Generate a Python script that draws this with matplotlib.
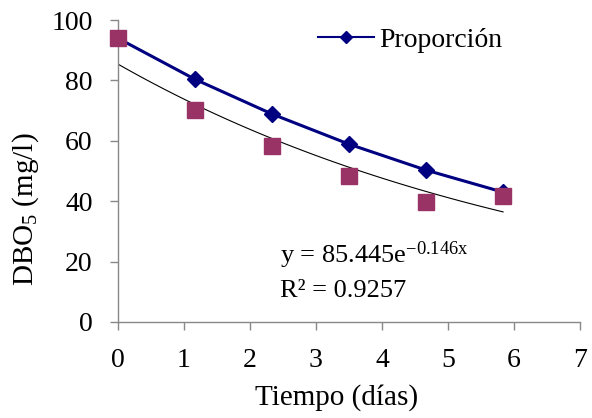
import matplotlib

matplotlib.use("Agg")
import matplotlib.pyplot as plt
import numpy as np

# Sampling times (days) and BOD5 readings (mg/l)
tiempo = [0, 1.167, 2.333, 3.5, 4.667, 5.833]
proporcion = [94.0, 80.4, 68.9, 58.9, 50.3, 43.0]
medido = [94.0, 70.2, 58.3, 48.5, 39.7, 41.7]

# Exponential trend fitted to the measured values
coef_a = 85.445
coef_b = -0.146
r2 = 0.9257

plt.rcParams["font.family"] = ["Liberation Serif", "DejaVu Serif"]
plt.rcParams["mathtext.fontset"] = "custom"
plt.rcParams["mathtext.rm"] = "Liberation Serif"
plt.rcParams["mathtext.it"] = "Liberation Serif:italic"

fig = plt.figure(figsize=(5.92, 4.18), dpi=100)
ax = fig.add_axes([0.199, 0.2297, 0.781, 0.7223])

x_fit = np.linspace(tiempo[0], tiempo[-1], 100)
ax.plot(x_fit, coef_a * np.exp(coef_b * x_fit), color="black", linewidth=0.8, zorder=2)

ax.plot(tiempo, proporcion, color="#000080", linewidth=2.2, marker="D",
        markersize=8, label="Proporción", zorder=3, clip_on=False)
ax.plot(tiempo, medido, linestyle="none", marker="s", markersize=11.5,
        color="#993366", zorder=4, clip_on=False)

ax.text(2.45, 19.5, f"y = {coef_a}e$^{{\\mathrm{{{coef_b}x}}}}$", fontsize=19, va="baseline")
ax.text(2.45, 8.3, f"R² = {r2}", fontsize=19, va="baseline")

ax.set_xlim(0, 7)
ax.set_ylim(0, 100)
ax.set_xticks(range(0, 8))
ax.set_yticks(range(0, 101, 20))
ax.tick_params(labelsize=20, direction="out", length=6, color="#888888", width=1)
ax.tick_params(axis="x", pad=13)
ax.tick_params(axis="y", pad=12)

for side in ["top", "right"]:
    ax.spines[side].set_visible(False)
for side in ["left", "bottom"]:
    ax.spines[side].set_color("#888888")
    ax.spines[side].set_linewidth(1)

ax.set_xlabel("Tiempo (días)", fontsize=21)
ax.set_ylabel("DBO$_5$ (mg/l)", fontsize=21)
ax.xaxis.set_label_coords(0.474, -0.205)
ax.yaxis.set_label_coords(-0.167, 0.374)

leg = ax.legend(loc="center left", bbox_to_anchor=(318 / 592, 1 - 40 / 418),
                bbox_transform=fig.transFigure, frameon=False, fontsize=20,
                handlelength=2.0, handletextpad=0.2, borderpad=0, borderaxespad=0)
for handle in leg.get_lines():
    handle.set_linewidth(1.5)
    handle.set_markersize(6.5)

fig.savefig("out.png", dpi=100)
